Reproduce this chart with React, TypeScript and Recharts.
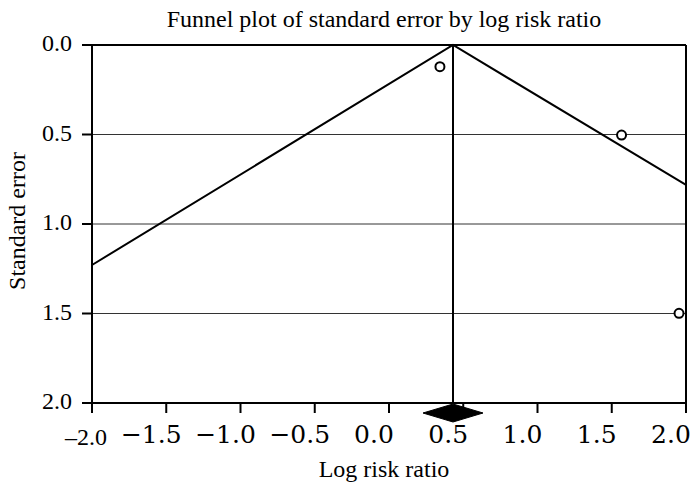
import {
  CartesianGrid,
  ComposedChart,
  ReferenceArea,
  ReferenceLine,
  Scatter,
  XAxis,
  YAxis,
} from 'recharts'

const X_TICKS = [-2, -1.5, -1, -0.5, 0, 0.5, 1, 1.5, 2]
const Y_TICKS = [0, 0.5, 1, 1.5, 2]

// individual studies: log risk ratio vs standard error
const STUDY_LOG_RR = [0.343, 1.566, 1.953]
const STUDY_SE = [0.121, 0.503, 1.499]

// pooled estimate + 95% CI (the diamond)
const POOLED_LOG_RR = 0.431
const POOLED_CI = [0.229, 0.633]

// pseudo 95% limits, read where they meet the plot edges
const FUNNEL_X = [-2, POOLED_LOG_RR, 2]
const FUNNEL_SE = [1.229, 0, 0.782]

const studies = STUDY_LOG_RR.map((x, i) => ({ x, y: STUDY_SE[i] }))
const funnel = FUNNEL_X.map((x, i) => ({ x, y: FUNNEL_SE[i] }))

const SERIF = '"Liberation Serif", "Times New Roman", serif'
const WIDE = '"DejaVu Serif", serif'

const fmt = (v: number) => v.toFixed(1)

const XTick = ({ x, y, payload, index }: any) => {
  const v = Number(payload.value)
  if (index === 0) {
    return (
      <text x={x - 6} y={y + 30} textAnchor="middle" fontFamily={SERIF} fontSize={24} fill="#000">
        {'\u2013' + fmt(Math.abs(v))}
      </text>
    )
  }
  const label = v < 0 ? '\u2212' + fmt(Math.abs(v)) : fmt(v)
  return (
    <text x={x - 15} y={y + 28} textAnchor="middle" fontFamily={WIDE} fontSize={25} fill="#000">
      {label}
    </text>
  )
}

const YTick = ({ x, y, payload }: any) => (
  <text x={x} y={y + 6} textAnchor="end" fontFamily={SERIF} fontSize={24} fill="#000">
    {fmt(Number(payload.value))}
  </text>
)

const Diamond = ({ x, y, width, height }: any) => {
  const cy = y + height + 10
  const cx = x + width / 2
  return (
    <polygon
      points={`${x},${cy} ${cx},${cy - 9} ${x + width},${cy} ${cx},${cy + 9}`}
      fill="#000"
      stroke="#000"
    />
  )
}

const Ring = ({ cx, cy }: any) => (
  <circle cx={cx} cy={cy} r={4.5} fill="#fff" stroke="#000" strokeWidth={2} />
)

export default function App() {
  return (
    <div style={{ position: 'absolute', left: 0, top: 0, width: 696, height: 491, background: '#fff' }}>
      <ComposedChart width={696} height={491} margin={{ top: 45, right: 10, bottom: 0, left: 0 }}>
        <CartesianGrid vertical={false} stroke="#333" strokeWidth={1} />
        <XAxis
          type="number"
          dataKey="x"
          domain={[-2, 2]}
          ticks={X_TICKS}
          interval={0}
          height={88}
          tickSize={10}
          axisLine={{ stroke: '#000', strokeWidth: 2 }}
          tickLine={{ stroke: '#000', strokeWidth: 2 }}
          tick={<XTick />}
        />
        <YAxis
          type="number"
          dataKey="y"
          domain={[0, 2]}
          reversed
          ticks={Y_TICKS}
          interval={0}
          width={92}
          tickSize={10}
          tickMargin={10}
          axisLine={{ stroke: '#000', strokeWidth: 2 }}
          tickLine={{ stroke: '#000', strokeWidth: 2 }}
          tick={<YTick />}
        />
        <ReferenceLine y={0} stroke="#000" strokeWidth={2} />
        <ReferenceLine x={2} stroke="#000" strokeWidth={2} />
        <ReferenceLine x={POOLED_LOG_RR} stroke="#000" strokeWidth={2} />
        <ReferenceArea
          x1={POOLED_CI[0]}
          x2={POOLED_CI[1]}
          ifOverflow="visible"
          shape={<Diamond />}
        />
        <Scatter
          data={funnel}
          line={{ stroke: '#000', strokeWidth: 2 }}
          shape={() => <g />}
          isAnimationActive={false}
        />
        <Scatter data={studies} shape={<Ring />} isAnimationActive={false} />
      </ComposedChart>
      <svg
        width={696}
        height={491}
        style={{ position: 'absolute', left: 0, top: 0, pointerEvents: 'none' }}
      >
        <text x={384} y={27} textAnchor="middle" fontFamily={SERIF} fontSize={24} fill="#000">
          Funnel plot of standard error by log risk ratio
        </text>
        <text x={384} y={477} textAnchor="middle" fontFamily={SERIF} fontSize={24} fill="#000">
          Log risk ratio
        </text>
        <text
          x={25}
          y={221}
          transform="rotate(-90 25 221)"
          textAnchor="middle"
          fontFamily={SERIF}
          fontSize={24}
          fill="#000"
        >
          Standard error
        </text>
      </svg>
    </div>
  )
}
